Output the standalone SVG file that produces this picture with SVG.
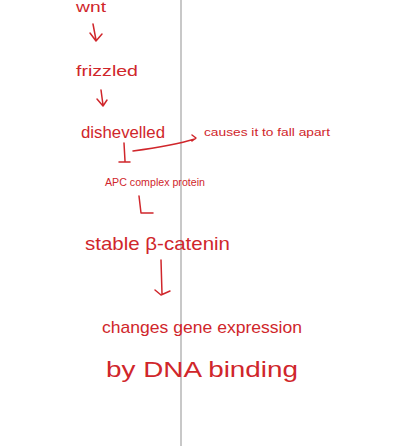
<svg xmlns="http://www.w3.org/2000/svg" width="408" height="446" viewBox="0 0 408 446">
<style>
.t{font-family:"Liberation Sans",Arial,sans-serif;fill:#d0262b}
.s{fill:none;stroke:#d0262b;stroke-width:1.5;stroke-linecap:round;stroke-linejoin:round}
</style>
<rect width="408" height="446" fill="#fff"/>
<line x1="181" y1="0" x2="181" y2="446" stroke="#c8c8c8" stroke-width="2"/>
<g id="n-wnt"><text class="t" x="76" y="12" font-size="14" textLength="30" lengthAdjust="spacingAndGlyphs">wnt</text></g>
<g id="n-frizzled"><text class="t" x="76" y="76" font-size="15" textLength="62" lengthAdjust="spacingAndGlyphs">frizzled</text></g>
<g id="n-dishevelled"><text class="t" x="81" y="138" font-size="17" textLength="84" lengthAdjust="spacingAndGlyphs">dishevelled</text></g>
<g id="n-causes"><text class="t" x="204" y="136" font-size="11" textLength="126" lengthAdjust="spacingAndGlyphs">causes it to fall apart</text></g>
<g id="n-apc"><text class="t" x="105" y="186" font-size="10" textLength="100" lengthAdjust="spacingAndGlyphs">APC complex protein</text></g>
<g id="n-stable"><text class="t" x="85" y="250" font-size="19" textLength="145" lengthAdjust="spacingAndGlyphs">stable β-catenin</text></g>
<g id="n-changes"><text class="t" x="102" y="333" font-size="17" textLength="200" lengthAdjust="spacingAndGlyphs">changes gene expression</text></g>
<g id="n-binding"><text class="t" x="106" y="377" font-size="22" textLength="192" lengthAdjust="spacingAndGlyphs">by DNA binding</text></g>
<g id="connectors">
<path class="s" d="M93 24 L96 40 M90 33 L96 41 L102 34"/>
<path class="s" d="M101 90 L103 105 M97 99 L103 106 L107 100"/>
<path class="s" d="M133 151 C155 148 175 145 195 139 M192 135 L196 138 L192 141"/>
<path class="s" d="M124 143 L125 161 M119 162 L130 162"/>
<path class="s" d="M139 196 L141 213 M141 213 L153 213"/>
<path class="s" d="M161 260 L162 294 M155 290 L161 295 L170 291"/>
</g>
</svg>
